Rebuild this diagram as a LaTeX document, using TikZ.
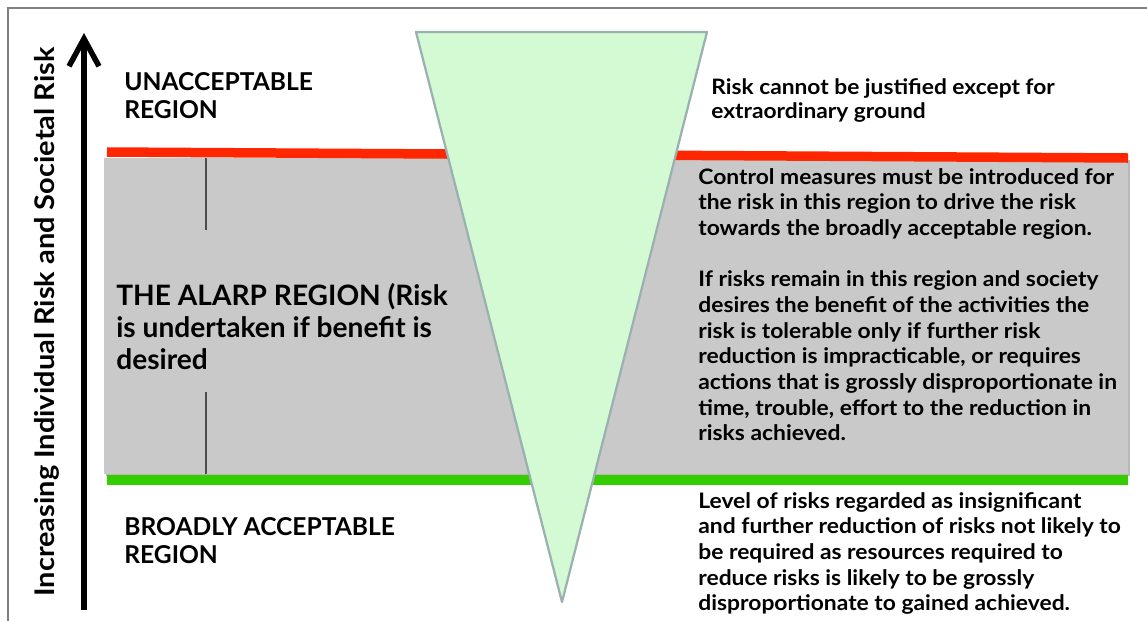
\documentclass[tikz,border=0pt]{standalone}
\usepackage{fontspec}
\setmainfont{Lato}
\newfontfamily\widefont{Lato}[FakeStretch=1.07]
\usetikzlibrary{arrows.meta}

\definecolor{limitred}{RGB}{255,38,0}
\definecolor{limitgreen}{RGB}{52,206,0}
\definecolor{alarpgray}{RGB}{201,201,201}
\definecolor{funnelfill}{RGB}{212,250,212}
\definecolor{funnelline}{RGB}{155,177,177}

\begin{document}
\begin{tikzpicture}[x=0.2mm, y=-0.2mm,
    region/.style={anchor=north west, inner sep=0pt, align=left,
      font=\bfseries\fontsize{14}{15.9}\selectfont},
    note/.style={anchor=north west, inner sep=0pt, align=left,
      font=\widefont\bfseries\fontsize{12.15}{14.6}\selectfont},
    limit/.style={line width=1.9mm},
    tick/.style={draw=black!70, line width=0.25mm}
    ]
    \useasboundingbox (0,0) rectangle (1147,621);
    % frame
    \draw[black!50, line width=0.4mm] (8,621) -- (8,8) -- (1147,8);

    % tolerable band and the two limits
    \fill[black!28] (106,160) rectangle (1130,476);
    \fill[alarpgray] (104,158) rectangle (1128,474);
    \draw[limit, limitred] (107,152) -- (1128,158);
    \draw[limit, limitgreen] (107,480) -- (1128,480);

    % funnel
    \draw[fill=funnelfill, draw=funnelline, line width=0.45mm, line join=round]
      (416,32) -- (707,32) -- (562,602) -- cycle;

    % axis
    \coordinate (axisbot) at (84,610);
    \coordinate (axistop) at (84,33);
    \draw[line width=1.1mm, -{Straight Barb[length=5.5mm, width=6mm]}] (axisbot) -- (axistop);
    \node[rotate=90, inner sep=0pt, font=\widefont\bfseries\fontsize{15.4}{17}\selectfont]
      (axislabel) at (47,322) {Increasing Individual Risk and Societal Risk};

    % left labels
    \node[region] (unacc) at (124,72) {UNACCEPTABLE\\REGION};
    \node[region, font=\bfseries\fontsize{16}{18.2}\selectfont]
      (alarp) at (116,283) {THE ALARP REGION (Risk\\is undertaken if benefit is\\desired};
    \node[region] (broad) at (124,517) {BROADLY ACCEPTABLE\\REGION};

    \coordinate (ticktop) at (206,158);
    \coordinate (tickup) at (206,230);
    \coordinate (tickdown) at (206,392);
    \coordinate (tickbot) at (206,474);
    \draw[tick] (ticktop) -- (tickup);
    \draw[tick] (tickdown) -- (tickbot);

    % right notes
    \node[note, font=\widefont\bfseries\fontsize{12.1}{13.7}\selectfont]
      (unaccnote) at (711,78)
      {Risk cannot be justified except for\\extraordinary ground};
    \node[note] (alarpnote) at (698,168)
      {Control measures must be introduced for\\
       the risk in this region to drive the risk\\
       towards the broadly acceptable region.\\[14.6pt]
       If risks remain in this region and society\\
       desires the benefit of the activities the\\
       risk is tolerable only if further risk\\
       reduction is impracticable, or requires\\
       actions that is grossly disproportionate in\\
       time, trouble, effort to the reduction in\\
       risks achieved.};
    \node[note] (broadnote) at (698,492)
      {Level of risks regarded as insignificant\\
       and further reduction of risks not likely to\\
       be required as resources required to\\
       reduce risks is likely to be grossly\\
       disproportionate to gained achieved.};
\end{tikzpicture}
\end{document}
